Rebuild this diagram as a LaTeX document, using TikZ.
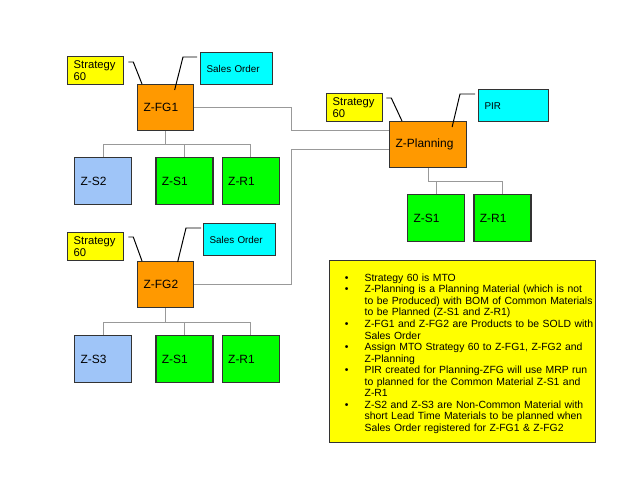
\documentclass[tikz,border=0pt]{standalone}
\usepackage{fontspec}
\setmainfont{Liberation Sans}
\usepackage{enumitem}
\usetikzlibrary{
	positioning,
	calc
}

\definecolor{hdrorange}{HTML}{FF9900}
\definecolor{compgreen}{HTML}{00FF00}
\definecolor{ownblue}{HTML}{9FC5F8}
\definecolor{notegold}{HTML}{FFFF00}
\definecolor{ordercyan}{HTML}{00FFFF}

\begin{document}
\begin{tikzpicture}[
			x=0.025cm,y=-0.025cm,
			box/.style={
				draw=black!80,
				line width=0.9pt,
				anchor=north west,
				inner xsep=0.15cm,
				inner ysep=0pt,
				align=left
			},
			header/.style={
				box,
				fill=hdrorange,
				font=\fontsize{8.5}{10}\selectfont,
				text width=1.1cm,
				minimum height=1.15cm
			},
			part/.style={
				box,
				font=\fontsize{8.5}{10}\selectfont,
				text width=1.125cm,
				minimum height=1.175cm
			},
			strat/.style={
				box,
				fill=notegold,
				font=\fontsize{8}{8.6}\selectfont,
				text width=1.1cm,
				minimum height=0.7cm
			},
			order/.style={
				box,
				fill=ordercyan,
				font=\fontsize{7}{8}\selectfont,
				text width=1.5cm,
				minimum height=0.8cm
			},
			tree/.style={draw=black!40,line width=0.6pt},
			callout/.style={draw=black,line width=0.7pt}
			]
			
			\fill[white] (0,0) rectangle (640,480);
			
			% first finished good
			\node[header] (fg1) at (137,84) {Z-FG1};
			\node[strat] (st1) at (67,56) {Strategy\\60};
			\node[order] (so1) at (200,52) {Sales Order};
			
			\node[part,fill=ownblue] (s2) at (74,157) {Z-S2};
			\node[part,fill=compgreen,right=0.575cm of s2] (s1a) {Z-S1};
			\node[part,fill=compgreen,right=0.2cm of s1a] (r1a) {Z-R1};
			
			% second finished good
			\node[header] (fg2) at (137,261) {Z-FG2};
			\node[strat] (st2) at (67,232) {Strategy\\60};
			\node[order] (so2) at (203,223) {Sales Order};
			
			\node[part,fill=ownblue] (s3) at (74,335) {Z-S3};
			\node[part,fill=compgreen,right=0.575cm of s3] (s1b) {Z-S1};
			\node[part,fill=compgreen,right=0.2cm of s1b] (r1b) {Z-R1};
			
			% planning material
			\node[header,text width=1.625cm] (plan) at (389,121) {Z-Planning};
			\node[strat] (st3) at (326,93) {Strategy\\60};
			\node[order,text width=1.45cm] (pir) at (478,89) {PIR};
			
			\node[part,fill=compgreen] (s1c) at (407,194) {Z-S1};
			\node[part,fill=compgreen,right=0.2cm of s1c] (r1c) {Z-R1};
			
			% notes
			\node[box,fill=notegold,text width=6.6cm,inner xsep=0.025cm,
				minimum height=4.55cm,font=\fontsize{7.4}{8.2}\selectfont] (notes) at (329,260) {%
				\begin{itemize}[nosep,leftmargin=0.85cm,labelsep=0.4cm,label=\textbullet]
					\raggedright
					\item Strategy 60 is MTO
					\item Z-Planning is a Planning Material (which is not\\to be Produced) with BOM of Common Materials\\to be Planned (Z-S1 and Z-R1)
					\item Z-FG1 and Z-FG2 are Products to be SOLD with\\Sales Order
					\item Assign MTO Strategy 60 to Z-FG1, Z-FG2 and\\Z-Planning
					\item PIR created for Planning-ZFG will use MRP run\\to planned for the Common Material Z-S1 and\\Z-R1
					\item Z-S2 and Z-S3 are Non-Common Material with\\short Lead Time Materials to be planned when\\Sales Order registered for Z-FG1 \& Z-FG2
				\end{itemize}};
			
			% trees
			\draw[tree] (fg1.south) -- ++(0,13) coordinate (b1);
			\draw[tree] (s2.north) |- (b1) -| (r1a.north);
			\draw[tree] (s1a.north) -- (s1a.north |- b1);
			
			\draw[tree] (fg2.south) -- ++(0,14) coordinate (b2);
			\draw[tree] (s3.north) |- (b2) -| (r1b.north);
			\draw[tree] (s1b.north) -- (s1b.north |- b2);
			
			\draw[tree] (plan.south) -- ++(0,13) coordinate (b3);
			\draw[tree] (b3) -| (r1c.north);
			\draw[tree] (s1c.north) -- (s1c.north |- b3);
			
			% links to planning
			\coordinate (j1) at (291,130);
			\coordinate (j2) at (291,149);
			\draw[tree] (fg1.east) -| (j1) -- (j1 -| plan.west);
			\draw[tree] (fg2.east) -| (j2) -- (j2 -| plan.west);
			
			% callouts
			\draw[callout] ($(st1.north east)+(4,6)$) -- ++(5,0) -- ($(fg1.north west)+(5,0)$);
			\draw[callout] ($(so1.north west)+(-3,5)$) -- ++(-14,0) -- ($(fg1.north)+(9,6)$);
			\draw[callout] ($(st2.north east)+(4,5)$) -- ++(5,0) -- ($(fg2.north west)+(5,0)$);
			\draw[callout] ($(so2.north west)+(-2,5)$) -- ++(-15,0) -- ($(fg2.north)+(12,1)$);
			\draw[callout] ($(st3.north east)+(3,5)$) -- ++(5,0) -- ($(plan.north west)+(13,0)$);
			\draw[callout] ($(pir.north west)+(-3,5)$) -- ++(-15,0) -- ($(plan.north)+(24,6)$);
			
		\end{tikzpicture}
\end{document}
